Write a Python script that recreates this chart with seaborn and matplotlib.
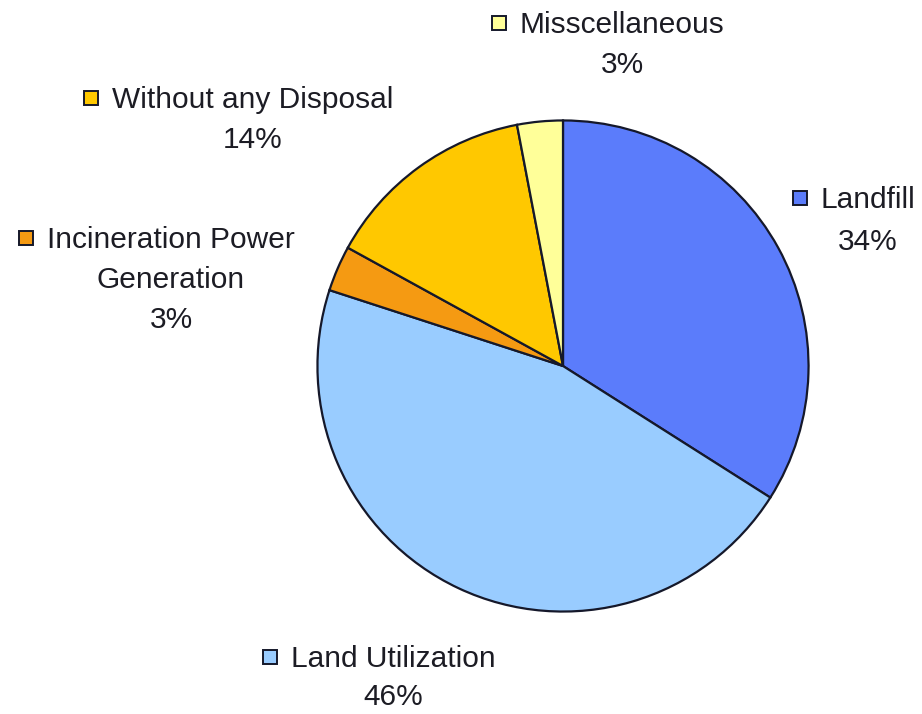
import matplotlib
matplotlib.use("Agg")
import matplotlib.pyplot as plt
from matplotlib.patches import Rectangle
import seaborn as sns

# ---- data ----
categories = ["Landfill", "Land Utilization", "Incineration Power\nGeneration",
              "Without any Disposal", "Misscellaneous"]
shares = [34, 46, 3, 14, 3]
colors = ["#5B7CFB", "#99CCFF", "#F59A12", "#FFC800", "#FFFF99"]

# label placement (pixel coords: center x of text, baseline of first line)
label_cx = [868, 393, 171, 253, 622]
label_base = [208, 667, 248, 108, 33]
label_step = [42, 38, 40, 40, 40]

sns.set_theme(style="white")
plt.rcParams["font.family"] = ["Liberation Sans", "DejaVu Sans"]

W, H = 922, 714
fig = plt.figure(figsize=(W / 100, H / 100), dpi=100)
fig.patch.set_facecolor("white")

cx, cy, r = 563, 366, 248
ax = fig.add_axes([(cx - r) / W, (H - cy - r) / H, 2 * r / W, 2 * r / H])
ax.pie(shares, colors=colors, startangle=90, counterclock=False, radius=1,
       wedgeprops=dict(edgecolor="#15182a", linewidth=1.6))
ax.set_xlim(-1.01, 1.01)
ax.set_ylim(-1.01, 1.01)
ax.set_aspect("equal")
ax.axis("off")

fs = 21.5
txt_color = "#1c1c24"
first_lines = []
for cat, sh, lx, lb, st in zip(categories, shares, label_cx, label_base, label_step):
    lines = cat.split("\n") + [f"{sh}%"]
    for i, ln in enumerate(lines):
        t = fig.text(lx / W, 1 - (lb + i * st) / H, ln, ha="center",
                     va="baseline", fontsize=fs, color=txt_color)
        if i == 0:
            first_lines.append((t, lb))

fig.canvas.draw()
renderer = fig.canvas.get_renderer()
sq = 14
gap = 14
for (t, lb), col in zip(first_lines, colors):
    bb = t.get_window_extent(renderer)
    x0 = bb.x0 - gap - sq
    yc = lb - 10  # pixel, top origin
    rect = Rectangle((x0 / W, 1 - (yc + sq / 2) / H), sq / W, sq / H,
                     transform=fig.transFigure, facecolor=col,
                     edgecolor="#15182a", linewidth=1.4)
    fig.add_artist(rect)

fig.savefig("out.png", dpi=100)
